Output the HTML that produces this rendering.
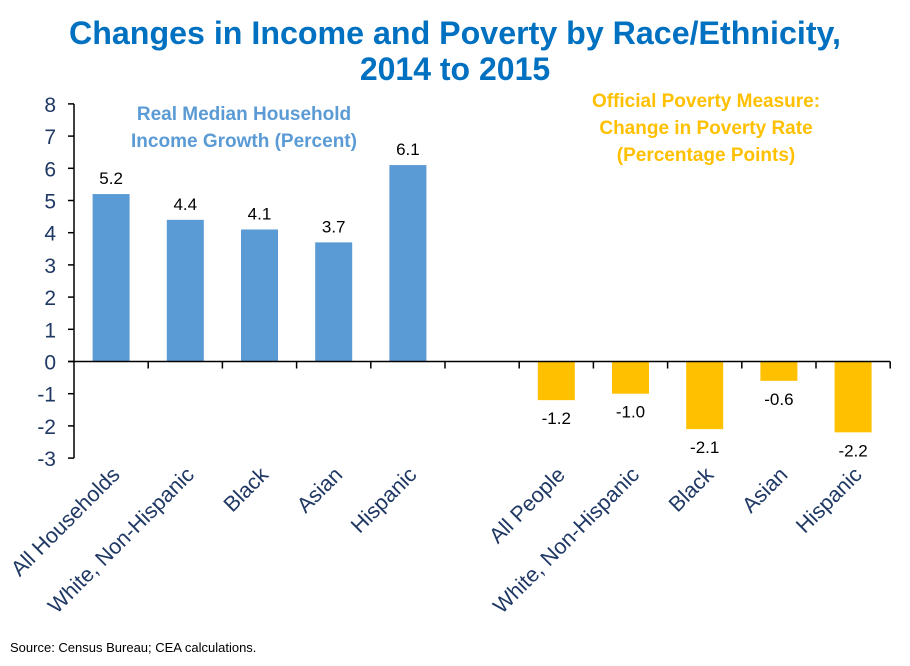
<!DOCTYPE html>
<html><head><meta charset="utf-8"><style>
body{margin:0;background:#fff;width:910px;height:661px;overflow:hidden;font-family:"Liberation Sans",sans-serif}
</style></head><body>
<svg width="910" height="661" id="c" xmlns="http://www.w3.org/2000/svg" font-family="Liberation Sans, sans-serif">
<text x="455" y="44" text-anchor="middle" font-size="32" font-weight="bold" fill="#0070c0" textLength="772" lengthAdjust="spacingAndGlyphs">Changes in Income and Poverty by Race/Ethnicity,</text>
<text x="455" y="80" text-anchor="middle" font-size="32" font-weight="bold" fill="#0070c0">2014 to 2015</text>
<text x="244" y="120" text-anchor="middle" font-size="19" font-weight="bold" fill="#5b9bd5"><tspan x="244">Real Median Household</tspan><tspan x="244" dy="27">Income Growth (Percent)</tspan></text>
<text x="706" y="107" text-anchor="middle" font-size="19" font-weight="bold" fill="#ffc000"><tspan x="706">Official Poverty Measure:</tspan><tspan x="706" dy="27">Change in Poverty Rate</tspan><tspan x="706" dy="27">(Percentage Points)</tspan></text>
<text x="10" y="652" font-size="13" fill="#000">Source: Census Bureau; CEA calculations.</text>
<g id="plot"></g>
</svg>
<script>
const categories=["All Households","White, Non-Hispanic","Black","Asian","Hispanic","","All People","White, Non-Hispanic","Black","Asian","Hispanic"];
const values=[5.2,4.4,4.1,3.7,6.1,null,-1.2,-1.0,-2.1,-0.6,-2.2];
const valueLabels=["5.2","4.4","4.1","3.7","6.1","","-1.2","-1.0","-2.1","-0.6","-2.2"];
const yTicks=[8,7,6,5,4,3,2,1,0,-1,-2,-3];
const NS="http://www.w3.org/2000/svg";
const g=document.getElementById('plot');
const x0=74,slot=74.2,yZero=361.5,unit=32.2;
const y=v=>yZero-v*unit;
const xc=i=>x0+slot*(i+0.5);
function mk(t,a,txt){const e=document.createElementNS(NS,t);for(const k in a)e.setAttribute(k,a[k]);if(txt!==undefined)e.textContent=txt;g.appendChild(e);return e;}
values.forEach((v,i)=>{
 if(v===null)return;
 const r=mk('rect',{x:xc(i)-18.5,y:Math.min(y(v),yZero),width:37,height:Math.abs(y(v)-yZero),fill:i<5?'#5b9bd5':'#ffc000'});
 
 
 const ly=v>=0?y(v)-10:y(v)+24;
 const t=mk('text',{x:xc(i),y:ly,'text-anchor':'middle','font-size':17,fill:'#000'},valueLabels[i]);
 
 
});
yTicks.forEach(v=>{
 const l=mk('line',{x1:x0-6,x2:x0,y1:y(v),y2:y(v),stroke:'#000','stroke-width':1.5});
 
 
 const t=mk('text',{x:56,y:y(v)+8,'text-anchor':'end','font-size':21,fill:'#1f3864'},String(v));
 
 
});
const ya=mk('line',{x1:x0,x2:x0,y1:y(8),y2:y(-3),stroke:'#000','stroke-width':1.5});


const xa=mk('line',{x1:x0-6,x2:x0+slot*categories.length,y1:yZero,y2:yZero,stroke:'#000','stroke-width':1.5});


for(let i=1;i<=categories.length;i++){
 const l=mk('line',{x1:x0+slot*i,x2:x0+slot*i,y1:yZero,y2:yZero+7,stroke:'#000','stroke-width':1.5});
 
 
}
categories.forEach((c,i)=>{
 if(!c)return;
 const cx=xc(i)+10,cy=476;
 const t=mk('text',{x:cx,y:cy,'text-anchor':'end','font-size':21.5,fill:'#1f3864',transform:`rotate(-45 ${cx} ${cy})`},c);
 
 
});
</script>
</body></html>
